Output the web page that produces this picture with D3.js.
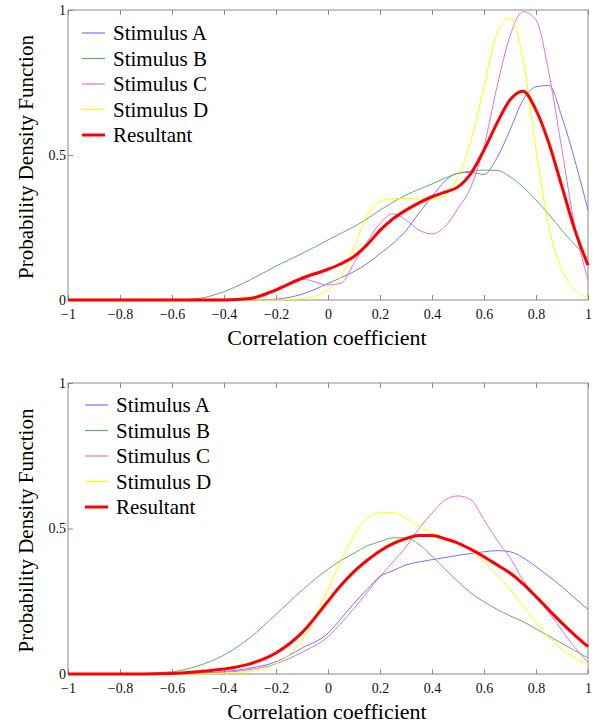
<!DOCTYPE html>
<html>
<head>
<meta charset="utf-8">
<script src="https://cdn.jsdelivr.net/npm/d3@7"></script>
<style>
  body { margin: 0; background: #fff; }
  svg text { font-family: "Liberation Serif", "Times New Roman", Times, serif; }
</style>
</head>
<body>
<div id="chart"></div>
<script>
// shared x grid (correlation coefficient)
const xGrid = [-1, -0.8, -0.6, -0.5, -0.4, -0.3, -0.2, -0.1, 0, 0.05, 0.1, 0.15, 0.2, 0.25, 0.3,
  0.35, 0.4, 0.45, 0.5, 0.55, 0.6, 0.65, 0.7, 0.75, 0.8, 0.85, 0.9, 0.95, 1];

const seriesNames = ["Stimulus A", "Stimulus B", "Stimulus C", "Stimulus D", "Resultant"];
const xTicks = [-1, -0.8, -0.6, -0.4, -0.2, 0, 0.2, 0.4, 0.6, 0.8, 1];
const yTicks = [0, 0.5, 1];

// upper panel
const topA = [0, 0, 0, 0, 0, 0, 0.003, 0.02, 0.057, 0.077, 0.098, 0.125, 0.16, 0.195, 0.24,
  0.3, 0.356, 0.41, 0.437, 0.44, 0.433, 0.49, 0.586, 0.69, 0.735, 0.74, 0.63, 0.48, 0.31];
const topB = [0, 0, 0, 0.005, 0.029, 0.069, 0.117, 0.16, 0.207, 0.23, 0.253, 0.28, 0.31, 0.337, 0.362,
  0.382, 0.4, 0.42, 0.437, 0.445, 0.448, 0.447, 0.425, 0.39, 0.345, 0.295, 0.24, 0.19, 0.144];
const topC = [0, 0, 0, 0, 0, 0.003, 0.03, 0.072, 0.052, 0.058, 0.127, 0.2, 0.264, 0.297, 0.276,
  0.241, 0.228, 0.253, 0.316, 0.39, 0.53, 0.735, 0.91, 0.994, 0.966, 0.78, 0.517, 0.25, 0.069];
const topD = [0, 0, 0, 0, 0, 0, 0, 0.005, 0.034, 0.08, 0.18, 0.29, 0.34, 0.35, 0.35,
  0.348, 0.347, 0.36, 0.425, 0.55, 0.735, 0.92, 0.972, 0.83, 0.52, 0.25, 0.103, 0.034, 0.007];
const topR = [0, 0, 0, 0, 0, 0.005, 0.035, 0.075, 0.106, 0.125, 0.15, 0.19, 0.24, 0.28, 0.31,
  0.335, 0.356, 0.372, 0.39, 0.437, 0.517, 0.61, 0.69, 0.72, 0.655, 0.54, 0.39, 0.24, 0.12];

// lower panel
const botA = [0, 0, 0, 0.003, 0.008, 0.02, 0.042, 0.089, 0.14, 0.19, 0.243, 0.29, 0.335, 0.355, 0.375,
  0.385, 0.393, 0.4, 0.408, 0.414, 0.42, 0.424, 0.42, 0.4, 0.369, 0.335, 0.3, 0.26, 0.222];
const botB = [0, 0, 0.008, 0.028, 0.065, 0.125, 0.205, 0.288, 0.36, 0.39, 0.415, 0.44, 0.455, 0.468, 0.468,
  0.445, 0.405, 0.36, 0.318, 0.278, 0.248, 0.222, 0.2, 0.18, 0.155, 0.13, 0.105, 0.08, 0.055];
const botC = [0, 0, 0, 0.002, 0.006, 0.015, 0.035, 0.075, 0.128, 0.175, 0.225, 0.28, 0.335, 0.385, 0.437,
  0.5, 0.553, 0.598, 0.612, 0.598, 0.53, 0.46, 0.4, 0.323, 0.265, 0.21, 0.15, 0.09, 0.04];
const botD = [0, 0, 0, 0, 0.003, 0.008, 0.035, 0.115, 0.29, 0.39, 0.475, 0.535, 0.554, 0.555, 0.536,
  0.506, 0.484, 0.467, 0.45, 0.425, 0.385, 0.34, 0.29, 0.235, 0.178, 0.125, 0.085, 0.055, 0.035];
const botR = [0, 0, 0.002, 0.008, 0.017, 0.035, 0.072, 0.142, 0.25, 0.305, 0.352, 0.39, 0.423, 0.448, 0.465,
  0.476, 0.476, 0.465, 0.45, 0.428, 0.403, 0.375, 0.347, 0.31, 0.266, 0.22, 0.175, 0.133, 0.094];

const colors = ["#7474ff", "#5fb35f", "#e070e0", "#ffff00", "#ff0000"];
const widths = [1, 1, 1, 1, 3];
const serif = "'Liberation Serif', 'Times New Roman', Times, serif";

const width = 595, height = 726;
const svg = d3.select("#chart").append("svg")
  .attr("width", width)
  .attr("height", height);

function drawPanel(top, bottom, series, legendX, legendY) {
  const x = d3.scaleLinear().domain([-1, 1]).range([68, 588]);
  const y = d3.scaleLinear().domain([0, 1]).range([bottom, top]);
  const g = svg.append("g");

  // frame
  g.append("rect")
    .attr("x", 68).attr("y", top)
    .attr("width", 520).attr("height", bottom - top)
    .attr("fill", "none").attr("stroke", "#8a8a8a").attr("stroke-width", 1);

  const fmt = d => d === 0 ? "0" : d3.format("~g")(d);

  const xAxis = g.append("g")
    .attr("transform", `translate(0,${bottom})`)
    .call(d3.axisBottom(x).tickValues(xTicks).tickSize(-5).tickSizeOuter(0).tickPadding(9).tickFormat(fmt));
  const xTop = g.append("g")
    .attr("transform", `translate(0,${top})`)
    .call(d3.axisTop(x).tickValues(xTicks).tickSize(-5).tickSizeOuter(0).tickFormat(""));
  const yAxis = g.append("g")
    .attr("transform", "translate(68,0)")
    .call(d3.axisLeft(y).tickValues(yTicks).tickSize(-5).tickSizeOuter(0).tickPadding(2).tickFormat(fmt));

  [xAxis, xTop, yAxis].forEach(a => {
    a.select(".domain").remove();
    a.selectAll(".tick line").attr("stroke", "#8a8a8a");
    a.selectAll("text")
      .style("font-family", serif)
      .attr("font-size", "14px")
      .attr("fill", "#111");
  });
  yAxis.selectAll("text").attr("dy", "0.3em");

  // curves
  const line = d3.line()
    .x((d, i) => x(xGrid[i]))
    .y(d => y(d))
    .curve(d3.curveMonotoneX);

  series.forEach((s, i) => {
    g.append("path")
      .datum(s)
      .attr("d", line)
      .attr("fill", "none")
      .attr("stroke", colors[i])
      .attr("stroke-width", widths[i])
      .attr("stroke-linejoin", "round");
  });

  // legend
  const leg = g.append("g");
  seriesNames.forEach((name, i) => {
    const yy = legendY + i * 25.5;
    leg.append("line")
      .attr("x1", legendX - 31).attr("x2", legendX - 8)
      .attr("y1", yy - 7).attr("y2", yy - 7)
      .attr("stroke", colors[i])
      .attr("stroke-width", i === 4 ? 3 : 1.2);
    leg.append("text")
      .attr("x", legendX).attr("y", yy)
      .attr("font-size", "21px")
      .style("font-family", serif)
      .attr("fill", "#000")
      .text(name);
  });

  // axis titles
  svg.append("text")
    .attr("x", 327).attr("y", bottom + 45)
    .attr("text-anchor", "middle")
    .attr("font-size", "22px")
    .style("font-family", serif)
    .attr("fill", "#000")
    .text("Correlation coefficient");

  svg.append("text")
    .attr("transform", `translate(33,${(top + bottom) / 2 + 2}) rotate(-90)`)
    .attr("text-anchor", "middle")
    .attr("font-size", "21px")
    .style("font-family", serif)
    .attr("fill", "#000")
    .text("Probability Density Function");
}

drawPanel(10, 300, [topA, topB, topC, topD, topR], 113, 40);
drawPanel(383, 674, [botA, botB, botC, botD, botR], 116, 412);
</script>
</body>
</html>
